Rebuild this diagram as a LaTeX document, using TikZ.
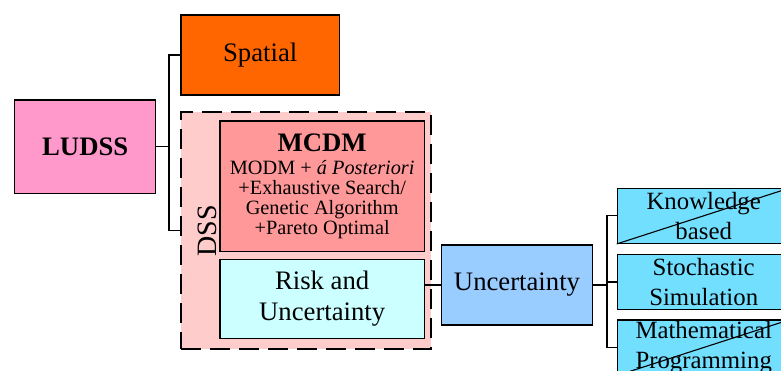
\documentclass[tikz,border=0pt]{standalone}
\usepackage{fontspec}
\setmainfont{Liberation Serif}
\definecolor{ludsscol}{RGB}{255,153,204}
\definecolor{spatialcol}{RGB}{255,102,0}
\definecolor{dsscol}{RGB}{255,204,204}
\definecolor{mcdmcol}{RGB}{255,153,153}
\definecolor{riskcol}{RGB}{204,255,255}
\definecolor{unccol}{RGB}{153,204,255}
\definecolor{methcol}{RGB}{115,223,255}
\begin{document}
\begin{tikzpicture}[x=1pt,y=-1pt,
  box/.style={draw=black, line width=1.3pt, inner sep=0pt, align=center},
  conn/.style={draw=black, line width=1.3pt},
  big/.style={font=\fontsize{26.7}{31}\selectfont},
  meth/.style={box, fill=methcol, minimum width=172.7pt, minimum height=55pt, font=\fontsize{24.8}{29.5}\selectfont}]
\useasboundingbox (0,0) rectangle (781,371);
\clip (0,0) rectangle (781,371);
\node[box, fill=ludsscol, minimum width=141pt, minimum height=93.3pt, font=\fontsize{26.7}{31}\selectfont\bfseries] (ludss) at (85.2,146.7) {LUDSS};
\node[box, fill=spatialcol, minimum width=158.3pt, minimum height=80pt, big] (spatial) at (260.2,55) {Spatial};
\node[draw=black, line width=1.8pt, dash pattern=on 20pt off 9pt, fill=dsscol, inner sep=0pt, minimum width=250pt, minimum height=237pt] (dss) at (306,230.5) {};
\node[rotate=90, inner sep=0pt, font=\fontsize{28}{30}\selectfont] (dsslabel) at (207,231) {DSS};
\node[box, fill=mcdmcol, minimum width=204.3pt, minimum height=130.7pt, font=\fontsize{20.3}{20.3}\selectfont] (mcdm) at (322.2,186.4)
  {{\fontsize{26.7}{26.7}\selectfont\bfseries MCDM}\\[2.5pt] MODM + \textit{á Posteriori}\\ +Exhaustive Search/\\ Genetic Algorithm\\ +Pareto Optimal};
\node[box, fill=riskcol, minimum width=204.3pt, minimum height=79pt, big] (risk) at (322.2,298.8) {Risk and\\Uncertainty};
\node[box, fill=unccol, minimum width=150.6pt, minimum height=80pt, big] (unc) at (517,285) {Uncertainty};
\node[meth] (know) at (703.7,215.8) {Knowledge\\based};
\node[meth] (stoch) at (703.7,282) {Stochastic\\Simulation};
\node[meth] (math) at (703.7,347.5) {Mathematical\\Programming};
\draw[line width=1.1pt] (know.south west) -- (know.north east);
\draw[line width=1.1pt] (math.south west) -- (math.north east);
\draw[conn] (ludss.east) -- ++(12.6,0) coordinate (lj) |- (spatial.west);
\draw[conn] (lj) |- (dss.west);
\draw[conn] (unc.west) -- (unc.west -| risk.east);
\draw[conn] (unc.east) -- ++(14,0) coordinate (rj) |- (know.west);
\draw[conn] (rj) |- (stoch.west);
\draw[conn] (rj) |- (math.west);
\end{tikzpicture}
\end{document}
